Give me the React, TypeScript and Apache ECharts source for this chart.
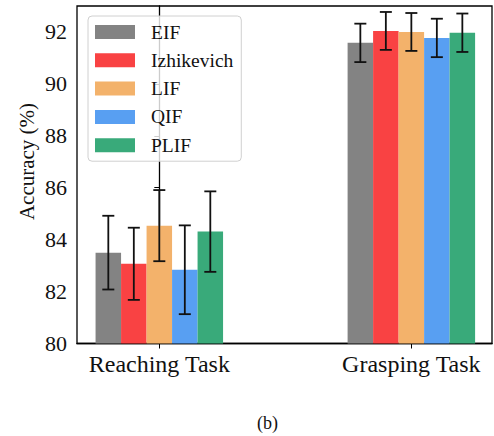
import React, { useEffect, useRef } from "react";
import * as echarts from "echarts";

const categories = ["Reaching Task", "Grasping Task"];
const models = ["EIF", "Izhikevich", "LIF", "QIF", "PLIF"];
const colors = ["#838383", "#F94243", "#F3B26B", "#589FF2", "#39AA7A"];
// accuracy per model: [Reaching, Grasping]
const meanEIF = [83.5, 91.58];
const meanIzh = [83.07, 92.04];
const meanLIF = [84.54, 92.0];
const meanQIF = [82.84, 91.77];
const meanPLIF = [84.31, 91.97];
// error (std) per model: [Reaching, Grasping]
const errEIF = [1.42, 0.74];
const errIzh = [1.39, 0.73];
const errLIF = [1.37, 0.73];
const errQIF = [1.71, 0.74];
const errPLIF = [1.55, 0.74];
const yTicks = [80, 82, 84, 86, 88, 90, 92];
const xTicks = [0, 1];
const yTitle = "Accuracy (%)";
const caption = "(b)";

const means = [meanEIF, meanIzh, meanLIF, meanQIF, meanPLIF];
const errs = [errEIF, errIzh, errLIF, errQIF, errPLIF];

const FONT = "Liberation Serif";
const BAR_W = 25.5;

export default function App() {
  const ref = useRef<HTMLDivElement>(null);
  useEffect(() => {
    if (!ref.current) return;
    const chart = echarts.init(ref.current, undefined, { renderer: "svg" });
    const barSeries: any[] = models.map((m, i) => ({
      type: "bar",
      name: m,
      data: categories.map((_, c) => [c, means[i][c]]),
      barWidth: BAR_W,
      barGap: "0%",
      itemStyle: { color: colors[i] },
      z: 2,
    }));
    const errSeries: any[] = models.map((m, i) => ({
      type: "custom",
      name: m + "-err",
      data: categories.map((_, c) => [c, means[i][c] - errs[i][c], means[i][c] + errs[i][c]]),
      z: 5,
      renderItem: (params: any, api: any) => {
        const x = api.value(0);
        const lo = api.coord([x, api.value(1)]);
        const hi = api.coord([x, api.value(2)]);
        const cx = lo[0] + (i - 2) * BAR_W;
        const cap = 6;
        const st = { stroke: "#111", lineWidth: 1.8 };
        return {
          type: "group",
          children: [
            { type: "line", shape: { x1: cx, y1: lo[1], x2: cx, y2: hi[1] }, style: st },
            { type: "line", shape: { x1: cx - cap, y1: lo[1], x2: cx + cap, y2: lo[1] }, style: st },
            { type: "line", shape: { x1: cx - cap, y1: hi[1], x2: cx + cap, y2: hi[1] }, style: st },
          ],
        };
      },
    }));
    chart.setOption({
      animation: false,
      backgroundColor: "#fff",
      grid: {
        left: 77,
        top: 6,
        width: 415,
        height: 337.5,
        show: true,
        borderColor: "#000",
        borderWidth: 1.3,
        containLabel: false,
      },
      legend: {
        data: models,
        orient: "vertical",
        left: 88,
        top: 16,
        itemWidth: 40,
        itemHeight: 14,
        itemGap: 8.3,
        icon: "rect",
        padding: [6, 8, 6, 7],
        borderColor: "#d0d0d0",
        borderWidth: 1,
        borderRadius: 4,
        backgroundColor: "rgba(255,255,255,0.8)",
        textStyle: {
          fontFamily: FONT,
          fontSize: 19.5,
          lineHeight: 20,
          color: "#111",
          padding: [0, 0, 0, 11],
        },
      },
      xAxis: {
        type: "value",
        min: -0.3266,
        max: 1.32,
        splitLine: { show: false },
        axisLine: { show: true, lineStyle: { color: "#000", width: 1.3 } },
        axisTick: { show: true, customValues: xTicks, length: 5, lineStyle: { color: "#000", width: 1 } },
        axisLabel: {
          customValues: xTicks,
          formatter: (v: number) => categories[Math.round(v)] ?? "",
          fontFamily: FONT,
          fontSize: 24,
          color: "#111",
          margin: 8,
        },
      },
      yAxis: {
        type: "value",
        min: 80,
        max: 93,
        splitLine: { show: false },
        axisLine: { show: true, lineStyle: { color: "#000", width: 1.3 } },
        axisTick: { show: true, customValues: yTicks, length: 5, lineStyle: { color: "#000", width: 1 } },
        axisLabel: {
          customValues: yTicks,
          fontFamily: FONT,
          fontSize: 22,
          color: "#111",
          margin: 10,
        },
      },
      graphic: [
        {
          type: "text",
          x: 27,
          y: 161.5,
          rotation: Math.PI / 2,
          style: {
            text: yTitle,
            fontFamily: FONT,
            fontSize: 21,
            fill: "#111",
            textAlign: "center",
            textVerticalAlign: "middle",
          },
        },
        {
          type: "text",
          left: 257,
          top: 414,
          style: { text: caption, fontFamily: FONT, fontSize: 18, fill: "#111" },
        },
      ],
      series: [...barSeries, ...errSeries],
    });
    return () => chart.dispose();
  }, []);
  return (
    <div
      ref={ref}
      style={{ position: "fixed", left: 0, top: 0, width: 494, height: 436 }}
    />
  );
}
